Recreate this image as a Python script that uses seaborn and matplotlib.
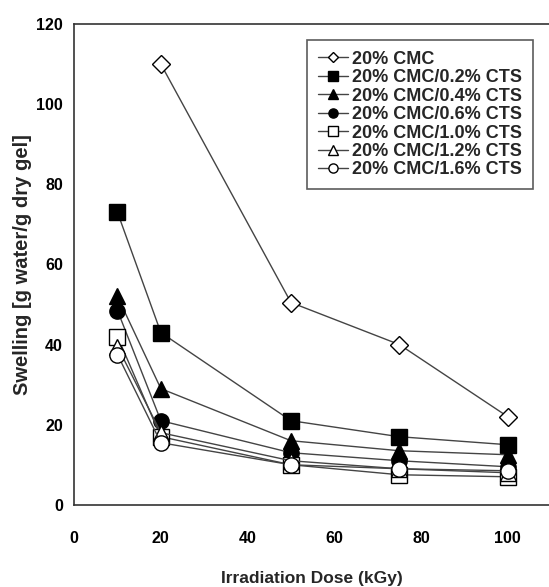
import matplotlib
matplotlib.use("Agg")
import matplotlib.pyplot as plt
import seaborn as sns
import pandas as pd

sns.set_theme(style="white")
plt.rcParams['font.family'] = ['Liberation Sans', 'DejaVu Sans']
plt.rcParams['font.weight'] = 'bold'

doses = [10, 20, 50, 75, 100]
cmc_doses = [20, 50, 75, 100]
labels = ["20% CMC", "20% CMC/0.2% CTS", "20% CMC/0.4% CTS", "20% CMC/0.6% CTS",
          "20% CMC/1.0% CTS", "20% CMC/1.2% CTS", "20% CMC/1.6% CTS"]
cmc = [110, 50.5, 40, 22]
cts_02 = [73, 43, 21, 17, 15]
cts_04 = [52, 29, 16, 13.5, 12.5]
cts_06 = [48.5, 21, 13, 11, 9.5]
cts_10 = [42, 17, 10, 7.5, 7]
cts_12 = [39.5, 18, 11, 9, 8]
cts_16 = [37.5, 15.5, 10, 9, 8.5]

series = [(cmc_doses, cmc), (doses, cts_02), (doses, cts_04), (doses, cts_06),
          (doses, cts_10), (doses, cts_12), (doses, cts_16)]
markers = ['D', 's', '^', 'o', 's', '^', 'o']
filled = [False, True, True, True, False, False, False]
sizes = [9, 12, 11, 11, 12, 11, 11]

fig = plt.figure(figsize=(5.49, 5.87), dpi=100)
ax = fig.add_axes([0.135, 0.14, 0.865, 0.819])

for lab, (xs, ys), m, f, s in zip(labels, series, markers, filled, sizes):
    df = pd.DataFrame({"dose": xs, "swelling": ys})
    sns.lineplot(data=df, x="dose", y="swelling", ax=ax, color="#444444",
                 linewidth=1.0, marker=m, markersize=s,
                 markerfacecolor="black" if f else "white",
                 markeredgecolor="black", markeredgewidth=1.0, label=lab)

ax.set_xlim(0, 109.5)
ax.set_ylim(0, 120)
ax.set_xticks([0, 20, 40, 60, 80, 100])
ax.set_yticks([0, 20, 40, 60, 80, 100, 120])
ax.tick_params(direction='in', length=3, width=1, colors='#333333', labelsize=11.5,
               labelcolor='black')
ax.tick_params(axis='x', pad=19)
ax.tick_params(axis='y', pad=8)
for t in ax.get_xticklabels() + ax.get_yticklabels():
    t.set_fontweight('bold')
for sp in ['left', 'bottom', 'top']:
    ax.spines[sp].set_color('#333333')
    ax.spines[sp].set_linewidth(1.2)
ax.spines['right'].set_visible(False)
ax.set_xlabel("Irradiation Dose (kGy)", fontsize=12.5, fontweight='bold', labelpad=18)
ax.set_ylabel("Swelling [g water/g dry gel]", fontsize=14.5, fontweight='bold', labelpad=3)

leg = ax.legend(loc='upper right', bbox_to_anchor=(0.966, 0.967), borderaxespad=0,
                frameon=True, fancybox=False, edgecolor='#333333', markerscale=0.6,
                prop={'weight': 'bold', 'size': 13}, handlelength=1.7,
                handletextpad=0.2, labelspacing=0.08, borderpad=0.6)
leg.get_frame().set_linewidth(1.2)

fig.savefig("out.png", dpi=100)
